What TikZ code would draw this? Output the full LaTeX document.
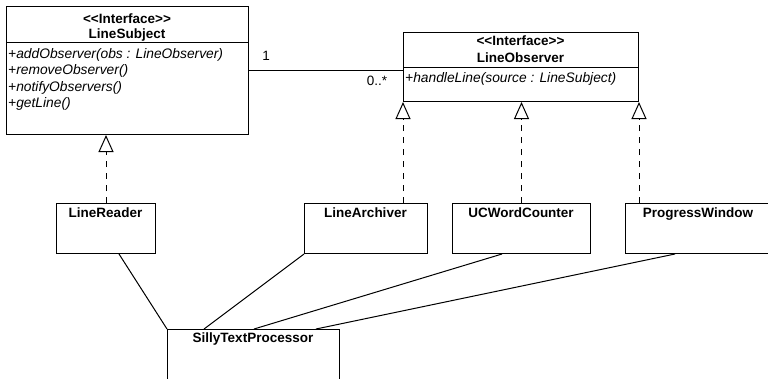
\documentclass[tikz,border=0pt]{standalone}
\usepackage{fontspec}
\setmainfont{Liberation Sans}
\usetikzlibrary{arrows.meta,calc}
\begin{document}
\begin{tikzpicture}[x=1pt,y=-1pt,
  box/.style={draw, line width=1pt, rectangle, inner sep=0pt, anchor=north west},
  title/.style={font=\fontsize{13.5}{16}\selectfont\bfseries, anchor=base, inner sep=0pt},
  meth/.style={font=\fontsize{13.8}{16}\selectfont\itshape, anchor=base west, inner sep=0pt},
  lbl/.style={font=\fontsize{13.5}{16}\selectfont, anchor=base, inner sep=0pt},
  real/.style={line width=1pt, dash pattern=on 6pt off 6pt, -{Triangle[open, length=17pt, width=15pt, line width=1pt]}},
  assoc/.style={line width=1pt}]
\useasboundingbox (0,0) rectangle (768,378);
\clip (0,0) rectangle (768,378);

% LineSubject
\node[box, minimum width=242pt, minimum height=128pt] (subj) at (6,6) {};
\draw[line width=1pt] ($(subj.north west)+(0,36)$) -- ($(subj.north east)+(0,36)$);
\node[title] (subjst) at (127,23) {<\kern0pt<Interface>\kern0pt>};
\node[title] (subjnm) at (127,38) {LineSubject};
\node[meth] (m1) at (8,58) {+addObserver(obs : LineObserver)};
\node[meth] (m2) at (8,74.5) {+removeObserver()};
\node[meth] (m3) at (8,91) {+notifyObservers()};
\node[meth] (m4) at (8,107.5) {+getLine()};

% LineObserver
\node[box, minimum width=235pt, minimum height=69pt] (obs) at (403,32) {};
\draw[line width=1pt] ($(obs.north west)+(0,35)$) -- ($(obs.north east)+(0,35)$);
\node[title] (obsst) at (520.5,45) {<\kern0pt<Interface>\kern0pt>};
\node[title] (obsnm) at (520.5,62) {LineObserver};
\node[meth] (h1) at (405,82) {+handleLine(source : LineSubject)};

% association
\draw[assoc] (subj.east) -- (obs.west |- subj.east);
\node[lbl] (one) at (266,60) {1};
\node[lbl] (many) at (377,85) {0..*};

% implementations
\node[box, minimum width=99pt, minimum height=50pt] (reader) at (56,203) {};
\node[title] (readert) at (105.5,217) {LineReader};
\node[box, minimum width=123pt, minimum height=50pt] (arch) at (304,203) {};
\node[title] (archt) at (365.5,217) {LineArchiver};
\node[box, minimum width=138pt, minimum height=50pt] (ucw) at (452,203) {};
\node[title] (ucwt) at (521,217) {UCWordCounter};
\node[box, minimum width=146pt, minimum height=50pt] (prog) at (625,203) {};
\node[title] (progt) at (698,217) {ProgressWindow};

% SillyTextProcessor
\node[box, minimum width=172pt, minimum height=80pt] (stp) at (167,329) {};
\node[title] (stpt) at (253,342) {SillyTextProcessor};

% realizations
\draw[real] (reader.north) -- (reader.north |- subj.south);
\draw[real] (obs.south west |- arch.north) -- (obs.south west);
\draw[real] (ucw.north) -- (ucw.north |- obs.south);
\draw[real] (obs.south east |- prog.north) -- (obs.south east);

% associations to SillyTextProcessor
\draw[assoc] ($(reader.south west)+(63,0)$) -- (stp.north west);
\draw[assoc] (arch.south west) -- ($(stp.north west)+(37,0)$);
\draw[assoc] ($(ucw.south west)+(50,0)$) -- ($(stp.north west)+(87,0)$);
\draw[assoc] ($(prog.south west)+(50,0)$) -- ($(stp.north west)+(149,0)$);
\end{tikzpicture}
\end{document}
